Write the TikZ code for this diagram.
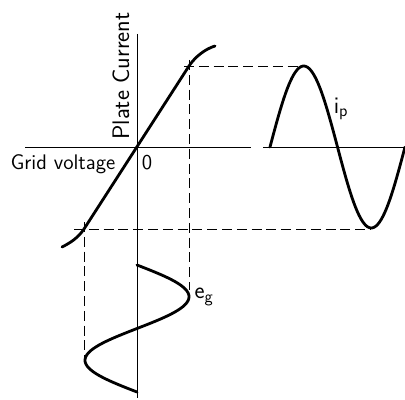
\documentclass[tikz,border=0pt]{standalone}
\usepackage{tikz}
\usetikzlibrary{positioning}

\tikzset{
  axisline/.style={line width=0.7pt},
  wave/.style={line width=2pt, line cap=round},
  guide/.style={line width=0.6pt, dash pattern=on 0.25cm off 0.12cm},
  lbl/.style={font=\sffamily\fontsize{15}{18}\selectfont, inner sep=1pt}
}

\begin{document}
\begin{tikzpicture}[x=0.025cm, y=-0.025cm]
        \useasboundingbox (0,0) rectangle (405,399);

        % Key points
        \coordinate (origin) at (137,147);
        \coordinate (hi) at (189,66);
        \coordinate (lo) at (84,229);
        \coordinate (ippeak) at (304,66);
        \coordinate (iptrough) at (371,229);
        \coordinate (egpeak) at (189,290);
        \coordinate (egtrough) at (84,360);

        % Axes
        \draw[axisline] (137,34) -- (137,398);
        \draw[axisline] (25,147) -- (251,147);
        \draw[axisline] (263,147) -- (405,147);

        % Guide lines
        \draw[guide] (hi) ++(-5,0) -- (ippeak);
        \draw[guide] (lo) ++(-10,0) -- (iptrough);
        \draw[guide] (hi) ++(0,-6) -- (egpeak);
        \draw[guide] (lo) ++(0,-7) -- (egtrough);

        % Characteristic
        \draw[wave] (62,247) .. controls (70,243) and (78,238) .. (lo)
                    -- (hi) .. controls (195,57) and (205,49) .. (215,46);

        % Plate current
        \draw[wave] plot[domain=0:360, samples=80] ({270+(\x/360)*135}, {147-81*sin(\x)});

        % Grid signal
        \draw[wave] plot[domain=0:360, samples=80] ({137+52*sin(\x)}, {265+(\x/360)*127});

        % Labels
        \node (platelbl) [lbl, font=\sffamily\fontsize{17}{20}\selectfont, rotate=90] at (121,76) {Plate Current};
        \node (gridlbl) [lbl] at (63,164) {Grid voltage};
        \node (zerolbl) [lbl] at (147,163) {0};
        \node (iplbl) [lbl, font=\sffamily\fontsize{17}{20}\selectfont] at (341,109) {i\textsubscript{p}};
        \node (eglbl) [lbl, font=\sffamily\fontsize{17}{20}\selectfont] at (204,297) {e\textsubscript{g}};
\end{tikzpicture}
\end{document}
